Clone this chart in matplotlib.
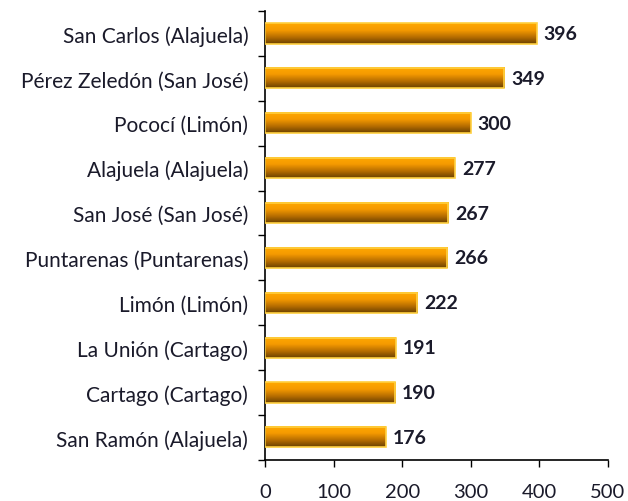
import numpy as np
import matplotlib
matplotlib.use("Agg")
import matplotlib.pyplot as plt
from matplotlib.colors import LinearSegmentedColormap

plt.rcParams['font.family'] = ['Lato', 'DejaVu Sans']

cantones = ["San Carlos (Alajuela)", "Pérez Zeledón (San José)", "Pococí (Limón)",
            "Alajuela (Alajuela)", "San José (San José)", "Puntarenas (Puntarenas)",
            "Limón (Limón)", "La Unión (Cartago)", "Cartago (Cartago)", "San Ramón (Alajuela)"]
valores = [396, 349, 300, 277, 267, 266, 222, 191, 190, 176]

fig = plt.figure(figsize=(6.28, 5.02), dpi=100)
ax = fig.add_axes([0.422, 0.082, 0.546, 0.894])

n = len(valores)
ypos = np.arange(n)[::-1]
h = 0.45
cmap = LinearSegmentedColormap.from_list("naranja", ["#6b4100", "#b86e00", "#f59a00", "#ffa800"])
grad = np.linspace(0, 1, 64).reshape(-1, 1)

for y, v in zip(ypos, valores):
    ax.imshow(grad, extent=(0, v, y - h / 2, y + h / 2), origin="lower", aspect="auto",
              cmap=cmap, zorder=2)
    ax.add_patch(plt.Rectangle((0, y - h / 2), v, h, fill=False, edgecolor="#ffd040",
                               linewidth=1.2, zorder=3))
    ax.text(v + 10, y, str(v), va="center", ha="left", fontsize=14, fontweight="bold",
            color="#1a1a2a")

ax.set_xlim(0, 500)
ax.set_ylim(-0.5, n - 0.5)
ax.set_xticks([0, 100, 200, 300, 400, 500])
ax.set_yticks(ypos)
ax.set_yticklabels(cantones, fontsize=15, color="#1a1a2a")
ax.set_yticks(np.arange(-0.5, n), minor=True)
ax.tick_params(axis="y", which="major", length=0, pad=12)
ax.tick_params(axis="y", which="minor", length=5, width=1, direction="out")
ax.tick_params(axis="x", length=5, width=1, direction="out", pad=12, labelsize=14.5,
               labelcolor="#1a1a2a")
for s in ["top", "right"]:
    ax.spines[s].set_visible(False)
for s in ["left", "bottom"]:
    ax.spines[s].set_linewidth(1.2)

fig.savefig("out.png", dpi=100)
